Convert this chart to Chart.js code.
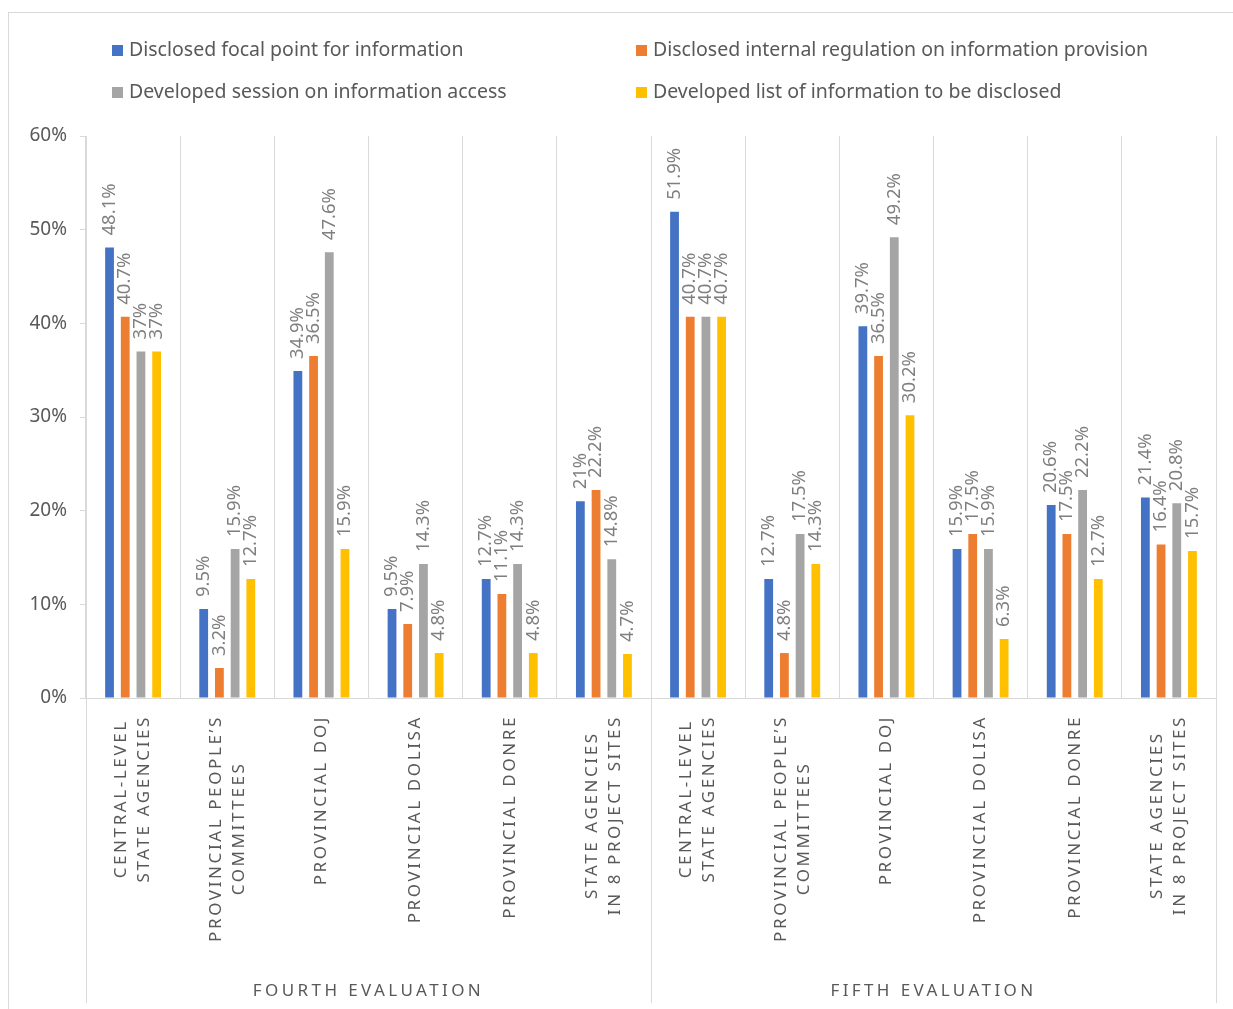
<!DOCTYPE html>
<html>
<head>
<meta charset="utf-8">
<script src="https://cdn.jsdelivr.net/npm/chart.js@4/dist/chart.umd.min.js"></script>
<style>
  html, body { margin: 0; padding: 0; background: #fff; overflow: hidden; }
  .frame { position: absolute; left: 8px; top: 12px; width: 1300px; height: 1100px; border: 1px solid #d9d9d9; }
  .wrap { position: absolute; left: 0; top: 0; width: 1233px; height: 1009px; }
</style>
</head>
<body>
<div class="frame"></div>
<div class="wrap"><canvas id="chart"></canvas></div>
<script>
// datos
const categories = [
  ["CENTRAL-LEVEL", "STATE AGENCIES"],
  ["PROVINCIAL PEOPLE’S", "COMMITTEES"],
  ["PROVINCIAL DOJ"],
  ["PROVINCIAL DOLISA"],
  ["PROVINCIAL DONRE"],
  ["STATE AGENCIES", "IN 8 PROJECT SITES"],
  ["CENTRAL-LEVEL", "STATE AGENCIES"],
  ["PROVINCIAL PEOPLE’S", "COMMITTEES"],
  ["PROVINCIAL DOJ"],
  ["PROVINCIAL DOLISA"],
  ["PROVINCIAL DONRE"],
  ["STATE AGENCIES", "IN 8 PROJECT SITES"]
];
const groups = ["FOURTH EVALUATION", "FIFTH EVALUATION"];

const focalPoint = [48.1, 9.5, 34.9, 9.5, 12.7, 21, 51.9, 12.7, 39.7, 15.9, 20.6, 21.4];
const internalReg = [40.7, 3.2, 36.5, 7.9, 11.1, 22.2, 40.7, 4.8, 36.5, 17.5, 17.5, 16.4];
const sessionAccess = [37, 15.9, 47.6, 14.3, 14.3, 14.8, 40.7, 17.5, 49.2, 15.9, 22.2, 20.8];
const infoList = [37, 12.7, 15.9, 4.8, 4.8, 4.7, 40.7, 14.3, 30.2, 6.3, 12.7, 15.7];

const yTicks = [0, 10, 20, 30, 40, 50, 60];

const FONT = "'Noto Sans', sans-serif";
const GRID = "#d9d9d9";

// leyenda en 2 columnas
const legendPlugin = {
  id: "legendGrid",
  afterDraw(chart) {
    const ctx = chart.ctx;
    const cols = [112, 636], rows = [50, 92];
    ctx.save();
    ctx.font = "19.5px " + FONT;
    ctx.textBaseline = "middle";
    ctx.textAlign = "left";
    chart.data.datasets.forEach((ds, i) => {
      const x = cols[i % 2], y = rows[Math.floor(i / 2)];
      ctx.fillStyle = ds.backgroundColor;
      ctx.fillRect(x, y - 5, 11, 11);
      ctx.fillStyle = "#595959";
      ctx.fillText(ds.label, x + 17, y);
    });
    ctx.restore();
  }
};

// etiquetas de valores verticales
const valueLabels = {
  id: "valueLabels",
  afterDatasetsDraw(chart) {
    const ctx = chart.ctx;
    ctx.save();
    ctx.font = "18.5px " + FONT;
    ctx.fillStyle = "#7f7f7f";
    ctx.textAlign = "left";
    ctx.textBaseline = "middle";
    chart.data.datasets.forEach((ds, i) => {
      chart.getDatasetMeta(i).data.forEach((bar, j) => {
        ctx.save();
        ctx.translate(bar.x, bar.y - 12);
        ctx.rotate(-Math.PI / 2);
        ctx.fillText(ds.data[j] + "%", 0, 0);
        ctx.restore();
      });
    });
    ctx.restore();
  }
};

// etiquetas del eje x y grupos
const xLabels = {
  id: "xLabels",
  afterDraw(chart) {
    const ctx = chart.ctx;
    const xs = chart.scales.x;
    const base = chart.chartArea.bottom;
    ctx.save();

    // lineas largas de los grupos
    const per = categories.length / groups.length;
    const edges = [xs.left];
    for (let g = 1; g < groups.length; g++) {
      edges.push((xs.getPixelForValue(g * per - 1) + xs.getPixelForValue(g * per)) / 2);
    }
    edges.push(xs.right);
    ctx.strokeStyle = GRID;
    ctx.lineWidth = 1;
    edges.forEach(x => {
      const px = Math.round(x) + 0.5;
      ctx.beginPath();
      ctx.moveTo(px, base);
      ctx.lineTo(px, 1003);
      ctx.stroke();
    });

    // categorias
    ctx.font = "17px " + FONT;
    ctx.letterSpacing = "2.6px";
    ctx.fillStyle = "#595959";
    ctx.textAlign = "center";
    ctx.textBaseline = "middle";
    categories.forEach((lines, i) => {
      const x = xs.getPixelForValue(i);
      const maxW = Math.max(...lines.map(l => ctx.measureText(l).width));
      ctx.save();
      ctx.translate(x, base + 17);
      ctx.rotate(-Math.PI / 2);
      lines.forEach((l, k) => {
        ctx.fillText(l, -maxW / 2, (k - (lines.length - 1) / 2) * 23);
      });
      ctx.restore();
    });

    // grupos
    ctx.font = "17px " + FONT;
    ctx.letterSpacing = "3.4px";
    groups.forEach((g, k) => {
      const cx = (edges[k] + edges[k + 1]) / 2;
      ctx.fillText(g, cx, 991);
    });
    ctx.restore();
  }
};

const ctx = document.getElementById("chart").getContext("2d");
new Chart(ctx, {
  type: "bar",
  data: {
    labels: categories,
    datasets: [
      { label: "Disclosed focal point for information", data: focalPoint, backgroundColor: "#4472C4" },
      { label: "Disclosed internal regulation on information provision", data: internalReg, backgroundColor: "#ED7D31" },
      { label: "Developed session on information access", data: sessionAccess, backgroundColor: "#A5A5A5" },
      { label: "Developed list of information to be disclosed", data: infoList, backgroundColor: "#FFC000" }
    ]
  },
  options: {
    responsive: true,
    maintainAspectRatio: false,
    animation: false,
    categoryPercentage: 0.667,
    barPercentage: 0.56,
    layout: { padding: { top: 136, right: 17, left: 0, bottom: 0 } },
    plugins: {
      legend: { display: false },
      tooltip: { enabled: false }
    },
    scales: {
      x: {
        afterFit: s => { s.height = 1009 - 698; },
        ticks: { display: false },
        grid: { color: GRID, drawTicks: false, offset: true },
        border: { color: GRID }
      },
      y: {
        min: 0,
        max: 60,
        afterFit: s => { s.width = 86; },
        afterBuildTicks: s => { s.ticks = yTicks.map(v => ({ value: v })); },
        ticks: {
          color: "#595959",
          font: { family: FONT, size: 19 },
          padding: 13,
          callback: v => v + "%"
        },
        grid: { drawOnChartArea: false, color: GRID, tickLength: 6 },
        border: { color: GRID }
      }
    }
  },
  plugins: [legendPlugin, valueLabels, xLabels]
});
</script>
</body>
</html>
